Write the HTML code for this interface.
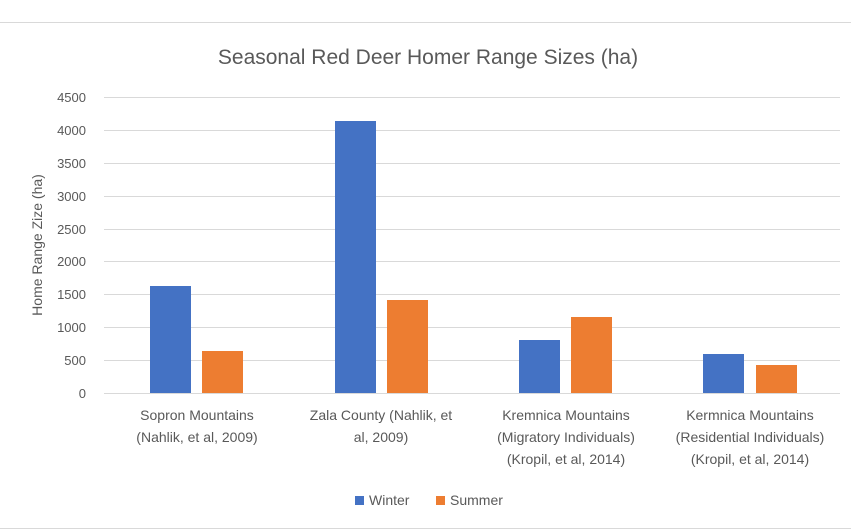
<!DOCTYPE html>
<html><head><style>body{margin:0;background:#fff}svg{display:block}text{font-family:"Liberation Sans",sans-serif;fill:#595959}</style></head>
<body>
<svg width="851" height="530" viewBox="0 0 851 530">
<rect width="851" height="530" fill="#fff"/>
<line x1="0" y1="22.5" x2="851" y2="22.5" stroke="#d9d9d9"/>
<line x1="0" y1="528.5" x2="851" y2="528.5" stroke="#d9d9d9"/>
<text x="428" y="64" font-size="21" text-anchor="middle">Seasonal Red Deer Homer Range Sizes (ha)</text>
<g stroke="#d9d9d9" stroke-width="1">
<line x1="104" x2="840" y1="97.5" y2="97.5"/><line x1="104" x2="840" y1="130.5" y2="130.5"/>
<line x1="104" x2="840" y1="163.5" y2="163.5"/><line x1="104" x2="840" y1="196.5" y2="196.5"/>
<line x1="104" x2="840" y1="229.5" y2="229.5"/><line x1="104" x2="840" y1="261.5" y2="261.5"/>
<line x1="104" x2="840" y1="294.5" y2="294.5"/><line x1="104" x2="840" y1="327.5" y2="327.5"/>
<line x1="104" x2="840" y1="360.5" y2="360.5"/><line x1="104" x2="840" y1="393.5" y2="393.5"/>
</g>
<g font-size="13" text-anchor="end">
<text x="86" y="102">4500</text><text x="86" y="135">4000</text><text x="86" y="168">3500</text>
<text x="86" y="201">3000</text><text x="86" y="234">2500</text><text x="86" y="266">2000</text>
<text x="86" y="299">1500</text><text x="86" y="332">1000</text><text x="86" y="365">500</text>
<text x="86" y="398">0</text>
</g>
<text transform="translate(42,245) rotate(-90)" font-size="14" text-anchor="middle">Home Range Zize (ha)</text>
<g fill="#4472c4">
<rect x="150" y="286" width="41" height="107"/><rect x="335" y="121" width="41" height="272"/>
<rect x="519" y="340" width="41" height="53"/><rect x="703" y="354" width="41" height="39"/>
</g>
<g fill="#ed7d31">
<rect x="202" y="351" width="41" height="42"/><rect x="387" y="300" width="41" height="93"/>
<rect x="571" y="317" width="41" height="76"/><rect x="756" y="365" width="41" height="28"/>
</g>
<g font-size="14" text-anchor="middle">
<text x="197" y="420">Sopron Mountains</text><text x="197" y="442">(Nahlik, et al, 2009)</text>
<text x="381" y="420">Zala County (Nahlik, et</text><text x="381" y="442">al, 2009)</text>
<text x="566" y="420">Kremnica Mountains</text><text x="566" y="442">(Migratory Individuals)</text><text x="566" y="464">(Kropil, et al, 2014)</text>
<text x="750" y="420">Kermnica Mountains</text><text x="750" y="442">(Residential Individuals)</text><text x="750" y="464">(Kropil, et al, 2014)</text>
</g>
<rect x="355" y="496" width="9" height="9" fill="#4472c4"/>
<text x="369" y="505" font-size="14">Winter</text>
<rect x="436" y="496" width="9" height="9" fill="#ed7d31"/>
<text x="450" y="505" font-size="14">Summer</text>
</svg>
</body></html>
